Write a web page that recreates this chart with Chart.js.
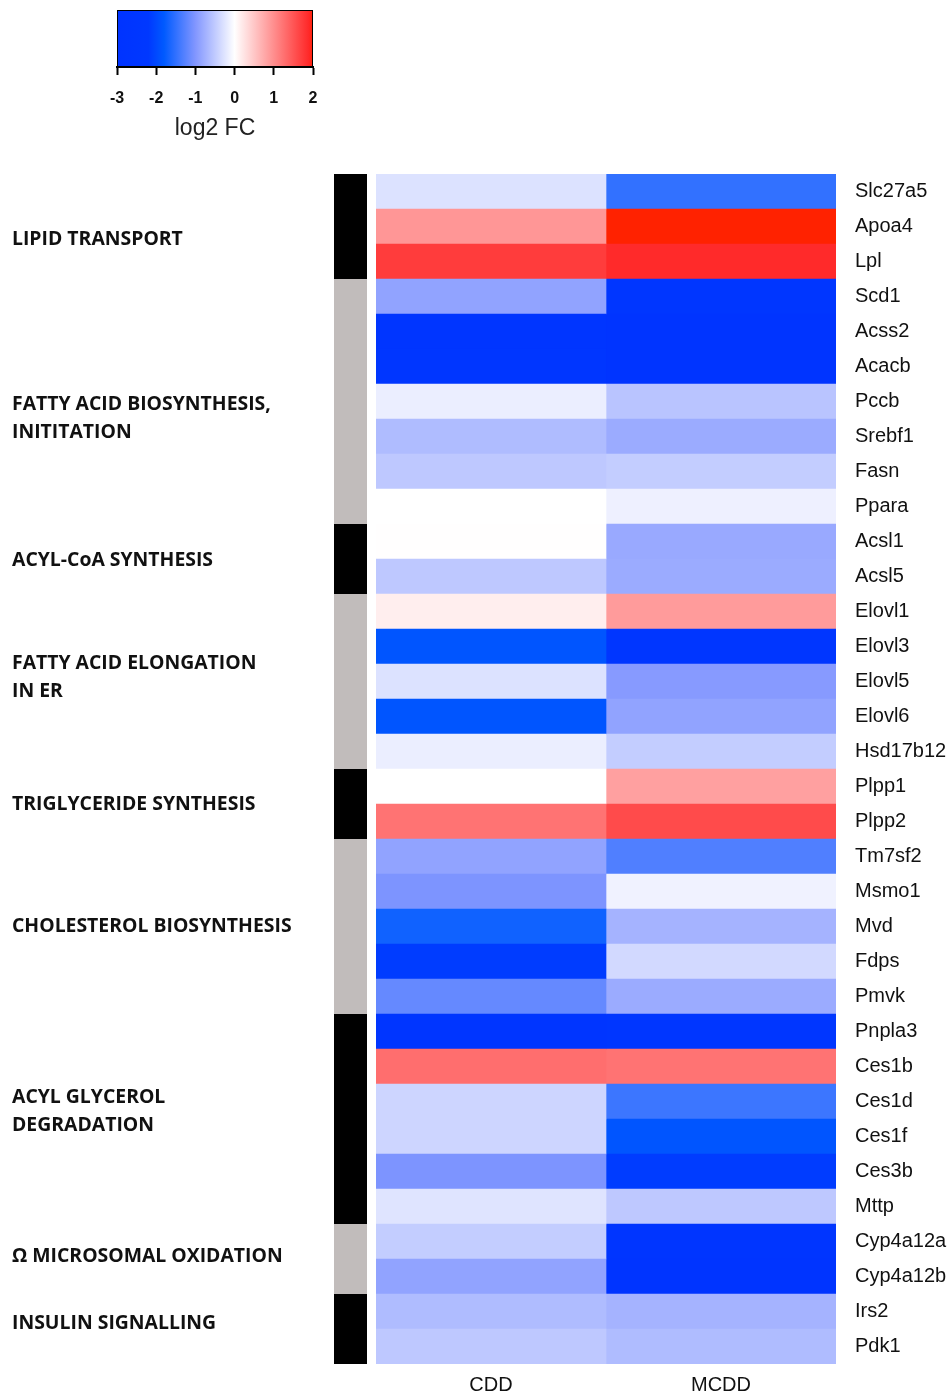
<!DOCTYPE html>
<html>
<head>
<meta charset="utf-8">
<title>log2 FC heatmap</title>
<script src="https://cdn.jsdelivr.net/npm/chart.js@4.4.1/dist/chart.umd.min.js"></script>
<style>
  html, body { margin: 0; padding: 0; background: #fff; }
  #wrap { position: relative; width: 951px; height: 1397px; overflow: hidden; }
  #main, #key { position: absolute; left: 0; top: 0; }
</style>
</head>
<body>
<div id="wrap">
  <canvas id="main" width="951" height="1397"></canvas>
  <canvas id="key" width="420" height="150"></canvas>
</div>
<script>
// ---- data -------------------------------------------------------------
const genes = [
  'Slc27a5', 'Apoa4', 'Lpl',
  'Scd1', 'Acss2', 'Acacb', 'Pccb', 'Srebf1', 'Fasn', 'Ppara',
  'Acsl1', 'Acsl5',
  'Elovl1', 'Elovl3', 'Elovl5', 'Elovl6', 'Hsd17b12',
  'Plpp1', 'Plpp2',
  'Tm7sf2', 'Msmo1', 'Mvd', 'Fdps', 'Pmvk',
  'Pnpla3', 'Ces1b', 'Ces1d', 'Ces1f', 'Ces3b', 'Mttp',
  'Cyp4a12a', 'Cyp4a12b',
  'Irs2', 'Pdk1'
];
const conditions = ['CDD', 'MCDD'];

// log2 fold change per gene
const cddFC = [
  -0.28, 0.93, 1.72,
  -0.88, -2.70, -2.60, -0.16, -0.64, -0.52, 0.00,
  0.01, -0.52,
  0.15, -1.86, -0.28, -1.86, -0.16,
  0.00, 1.24,
  -0.88, -1.03, -1.70, -2.15, -1.18,
  -2.70, 1.28, -0.40, -0.40, -1.03, -0.26,
  -0.48, -0.88,
  -0.64, -0.52
];
const mcddFC = [
  -1.49, 2.00, 1.88,
  -2.60, -2.80, -2.90, -0.56, -0.80, -0.48, -0.14,
  -0.82, -0.80,
  0.88, -2.50, -0.96, -0.88, -0.48,
  0.84, 1.59,
  -1.31, -0.12, -0.72, -0.36, -0.80,
  -2.60, 1.24, -1.43, -1.86, -2.15, -0.52,
  -2.70, -2.80,
  -0.72, -0.64
];

// pathway groups, in row order
const groupNames = [
  ['LIPID TRANSPORT'],
  ['FATTY ACID BIOSYNTHESIS,', 'INITITATION'],
  ['ACYL-CoA SYNTHESIS'],
  ['FATTY ACID ELONGATION', 'IN ER'],
  ['TRIGLYCERIDE SYNTHESIS'],
  ['CHOLESTEROL BIOSYNTHESIS'],
  ['ACYL GLYCEROL', 'DEGRADATION'],
  ['\u03A9 MICROSOMAL OXIDATION'],
  ['INSULIN SIGNALLING']
];
const groupSizes = [3, 7, 2, 5, 2, 5, 6, 2, 2];

const legendTicks = [-3, -2, -1, 0, 1, 2];

// ---- colour scale (blue - white - red) ---------------------------------
const colorStops = [
  [-3.0, [0, 51, 255]],
  [-2.2, [0, 56, 255]],
  [-1.8, [0, 90, 255]],
  [-1.0, [130, 150, 255]],
  [0.0, [255, 255, 255]],
  [1.9, [255, 40, 40]],
  [2.0, [255, 34, 0]]
];
function fcColor(v) {
  const lo = colorStops[0][0], hi = colorStops[colorStops.length - 1][0];
  v = Math.max(lo, Math.min(hi, v));
  for (let i = 0; i < colorStops.length - 1; i++) {
    const [a, ca] = colorStops[i], [b, cb] = colorStops[i + 1];
    if (v >= a && v <= b) {
      const t = (v - a) / (b - a);
      const c = ca.map((x, k) => Math.round(x + (cb[k] - x) * t));
      return `rgb(${c[0]},${c[1]},${c[2]})`;
    }
  }
  return 'rgb(255,255,255)';
}

const TEXT = '#111';
const SANS = "'Liberation Sans', Arial, sans-serif";

// ---- pathway strip + labels on the left --------------------------------
const pathwayPlugin = {
  id: 'pathways',
  afterDatasetsDraw(chart, args, opts) {
    const { ctx, chartArea } = chart;
    const y = chart.scales.y;
    const rowH = (chartArea.bottom - chartArea.top) / genes.length;
    let start = 0;
    ctx.save();
    groupNames.forEach((lines, g) => {
      const n = groupSizes[g];
      const top = y.getPixelForValue(start) - rowH / 2;
      const bottom = y.getPixelForValue(start + n - 1) + rowH / 2;
      ctx.fillStyle = g % 2 === 0 ? opts.dark : opts.light;
      ctx.fillRect(chartArea.left - opts.stripGap - opts.stripWidth, top,
                   opts.stripWidth, bottom - top);

      ctx.fillStyle = TEXT;
      ctx.font = opts.font;
      ctx.textAlign = 'left';
      ctx.textBaseline = 'middle';
      const mid = (top + bottom) / 2 + (opts.nudge[g] || 0);
      const y0 = mid - (lines.length - 1) * opts.lineGap / 2;
      lines.forEach((t, k) => ctx.fillText(t, opts.textX, y0 + k * opts.lineGap));
      start += n;
    });
    ctx.restore();
  }
};

// ---- heatmap -----------------------------------------------------------
const columns = [cddFC, mcddFC];
new Chart(document.getElementById('main'), {
  type: 'bar',
  data: {
    labels: genes,
    datasets: conditions.map((name, j) => ({
      label: name,
      data: genes.map(() => 1),
      backgroundColor: columns[j].map(fcColor),
      borderWidth: 0,
      barPercentage: 1,
      categoryPercentage: 1,
      stack: 'cells'
    }))
  },
  options: {
    indexAxis: 'y',
    responsive: false,
    animation: false,
    events: [],
    layout: { padding: { left: 376, top: 174, right: 0, bottom: 0 } },
    plugins: {
      legend: { display: false },
      tooltip: { enabled: false },
      pathways: {
        dark: '#000000',
        light: '#c1bcbb',
        stripWidth: 33,
        stripGap: 9,
        textX: 12,
        lineGap: 28,
        font: "bold 19.4px 'Open Sans', sans-serif",
        nudge: [13, 17, 1, -4, 0, 0, -8, -3, -6]
      }
    },
    scales: {
      x: {
        type: 'linear',
        stacked: true,
        min: 0,
        max: conditions.length,
        position: 'bottom',
        grid: { display: false, drawTicks: false },
        border: { display: false },
        afterBuildTicks(scale) {
          scale.ticks = conditions.map((c, i) => ({ value: i + 0.5 }));
        },
        afterFit(scale) { scale.height = 33; },
        ticks: {
          autoSkip: false,
          maxRotation: 0,
          padding: 9,
          color: TEXT,
          font: { family: SANS, size: 20 },
          callback: (v, i) => conditions[i]
        }
      },
      y: {
        type: 'category',
        stacked: true,
        position: 'right',
        grid: { display: false, drawTicks: false },
        border: { display: false },
        afterFit(scale) { scale.width = 115; },
        ticks: {
          autoSkip: false,
          padding: 19,
          color: TEXT,
          font: { family: SANS, size: 20 }
        }
      }
    }
  },
  plugins: [pathwayPlugin]
});

// ---- colour key ---------------------------------------------------------
const keyBarPlugin = {
  id: 'keyBar',
  beforeDatasetsDraw(chart) {
    const { ctx, chartArea: a } = chart;
    const x = chart.scales.x;
    const grad = ctx.createLinearGradient(x.getPixelForValue(x.min), 0, x.getPixelForValue(x.max), 0);
    colorStops.forEach(([v]) => {
      grad.addColorStop((v - x.min) / (x.max - x.min), fcColor(v));
    });
    ctx.save();
    ctx.fillStyle = grad;
    ctx.fillRect(a.left, a.top, a.right - a.left, a.bottom - a.top);
    ctx.strokeStyle = '#000';
    ctx.lineWidth = 1;
    ctx.strokeRect(a.left + 0.5, a.top + 0.5, a.right - a.left - 1, a.bottom - a.top - 1);
    ctx.restore();
  }
};

new Chart(document.getElementById('key'), {
  type: 'bar',
  data: { labels: [], datasets: [] },
  options: {
    responsive: false,
    animation: false,
    events: [],
    layout: { padding: { left: 117, right: 107, top: 10, bottom: 0 } },
    plugins: { legend: { display: false }, tooltip: { enabled: false } },
    scales: {
      x: {
        type: 'linear',
        offset: false,
        min: legendTicks[0],
        max: legendTicks[legendTicks.length - 1],
        position: 'bottom',
        afterBuildTicks(scale) {
          scale.ticks = legendTicks.map(v => ({ value: v }));
        },
        afterFit(scale) { scale.height = 83; },
        grid: {
          display: true,
          offset: false,
          drawOnChartArea: false,
          drawTicks: true,
          tickLength: 8,
          tickWidth: 2,
          tickColor: '#000'
        },
        border: { display: true, color: '#000', width: 2 },
        ticks: {
          autoSkip: false,
          maxRotation: 0,
          padding: 14,
          color: TEXT,
          font: { family: SANS, size: 16, weight: 'bold' },
          callback: v => String(v)
        },
        title: {
          display: true,
          text: 'log2 FC',
          color: '#222',
          font: { family: SANS, size: 23 },
          padding: { top: 0, bottom: 8 }
        }
      },
      y: { display: false }
    }
  },
  plugins: [keyBarPlugin]
});
</script>
</body>
</html>
